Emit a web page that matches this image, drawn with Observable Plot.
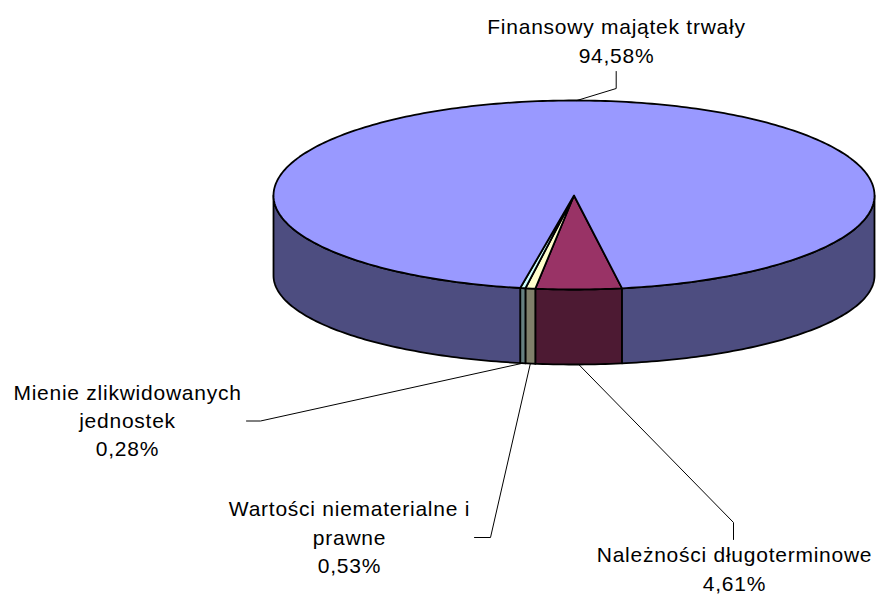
<!DOCTYPE html>
<html>
<head>
<meta charset="utf-8">
<script src="https://cdn.jsdelivr.net/npm/d3@7"></script>
<script src="https://cdn.jsdelivr.net/npm/@observablehq/plot@0.6"></script>
<style>
html,body{margin:0;padding:0;background:#fff;}
svg{display:block;}
</style>
</head>
<body>
<div id="chart"></div>
<script>
// Data, in drawing order (clockwise on screen from the front of the pie)
const names = ["Należności długoterminowe", "Wartości niematerialne i\nprawne", "Mienie zlikwidowanych\njednostek", "Finansowy majątek trwały"];
const shares = [4.61, 0.53, 0.28, 94.58];
const topColors = ["#993366", "#FFFFCC", "#CCFFFF", "#9999FF"];
const wallColors = ["#4D1A33", "#80806B", "#668080", "#4D4D80"];

// Layout of the tilted pie
const W = 876, H = 594;
const cx = 573.5, rx = 300.5;
const topCy = 195, topRyFront = 94, topRyBack = 95;
const botCy = 275, botRy = 89;
const startAngle = 9.2;
const rad = Math.PI / 180;
const px = a => cx + rx * Math.sin(a * rad);
const pyTop = a => { const c = Math.cos(a * rad); return topCy + (c > 0 ? topRyFront : topRyBack) * c; };
const pyBot = a => botCy + botRy * Math.cos(a * rad);

function arcAngles(a0, a1) {
  const out = [a0];
  const step = a1 > a0 ? 1 : -1;
  for (let a = Math.ceil(a0) + (step < 0 ? -1 : 0); step > 0 ? a < a1 : a > a1; a += step) if (a !== a0) out.push(a);
  out.push(a1);
  return out;
}

let acc = startAngle;
const slices = shares.map((v, i) => {
  const a0 = acc, a1 = acc - v * 3.6;
  acc = a1;
  return {name: names[i], value: v, a0, a1, mid: (a0 + a1) / 2, top: topColors[i], wall: wallColors[i]};
});

// Front-facing portions of each slice's wall
const frontBands = [[90, -90], [-270, -450]];
const walls = [];
slices.forEach(s => frontBands.forEach(([hi, lo]) => {
  const a0 = Math.min(s.a0, hi), a1 = Math.max(s.a1, lo);
  if (a0 <= a1) return;
  const arc = arcAngles(a0, a1);
  const pts = [...arc.map(a => ({x: px(a), y: pyTop(a)})), ...arc.slice().reverse().map(a => ({x: px(a), y: pyBot(a)}))];
  walls.push({pts, color: s.wall});
}));

const tops = slices.map(s => ({
  color: s.top,
  pts: [{x: cx, y: topCy}, ...arcAngles(s.a0, s.a1).map(a => ({x: px(a), y: pyTop(a)}))]
}));

// Label placement: text anchor, and the leader's elbow + tail beside the text
const labelLayout = [
  {x: 734, y: 567, elbow: [733, 522], tail: [733, 539], back: false},
  {x: 349, y: 535, elbow: [490, 537], tail: [474, 537], back: false},
  {x: 127, y: 418.5, elbow: [260, 420.5], tail: [246, 420.5], back: false},
  {x: 616, y: 39, elbow: [615.7, 88], tail: [615.7, 71], back: true}
];
const fmt = v => v.toFixed(2).replace(".", ",") + "%";
const labels = slices.map((s, i) => ({text: s.name + "\n" + fmt(s.value), x: labelLayout[i].x, y: labelLayout[i].y}));
const leaders = slices.map((s, i) => {
  const l = labelLayout[i];
  const start = l.back ? {x: px(s.mid), y: pyTop(s.mid)} : {x: px(s.mid), y: pyBot(s.mid)};
  return [start, {x: l.elbow[0], y: l.elbow[1]}, {x: l.tail[0], y: l.tail[1]}];
});

const poly = (pts, color) => Plot.line(pts, {x: "x", y: "y", fill: color, stroke: "#000", strokeWidth: 1.8, strokeLinejoin: "round", curve: "linear-closed"});

const chart = Plot.plot({
  width: W, height: H,
  margin: 0,
  style: {background: "#fff", letterSpacing: "0.75px"},
  x: {domain: [0, W], range: [0, W], axis: null},
  y: {domain: [0, H], range: [0, H], axis: null},
  marks: [
    ...walls.map(w => poly(w.pts, w.color)),
    ...tops.map(t => poly(t.pts, t.color)),
    ...leaders.map(l => Plot.line(l, {x: "x", y: "y", stroke: "#000", strokeWidth: 1, curve: "linear"})),
    Plot.text(labels, {x: "x", y: "y", text: "text", fontSize: 21, lineHeight: 1.34, fill: "#000", fontFamily: "Liberation Sans", textAnchor: "middle", frameAnchor: "middle"})
  ]
});
document.getElementById("chart").appendChild(chart);
</script>
</body>
</html>
